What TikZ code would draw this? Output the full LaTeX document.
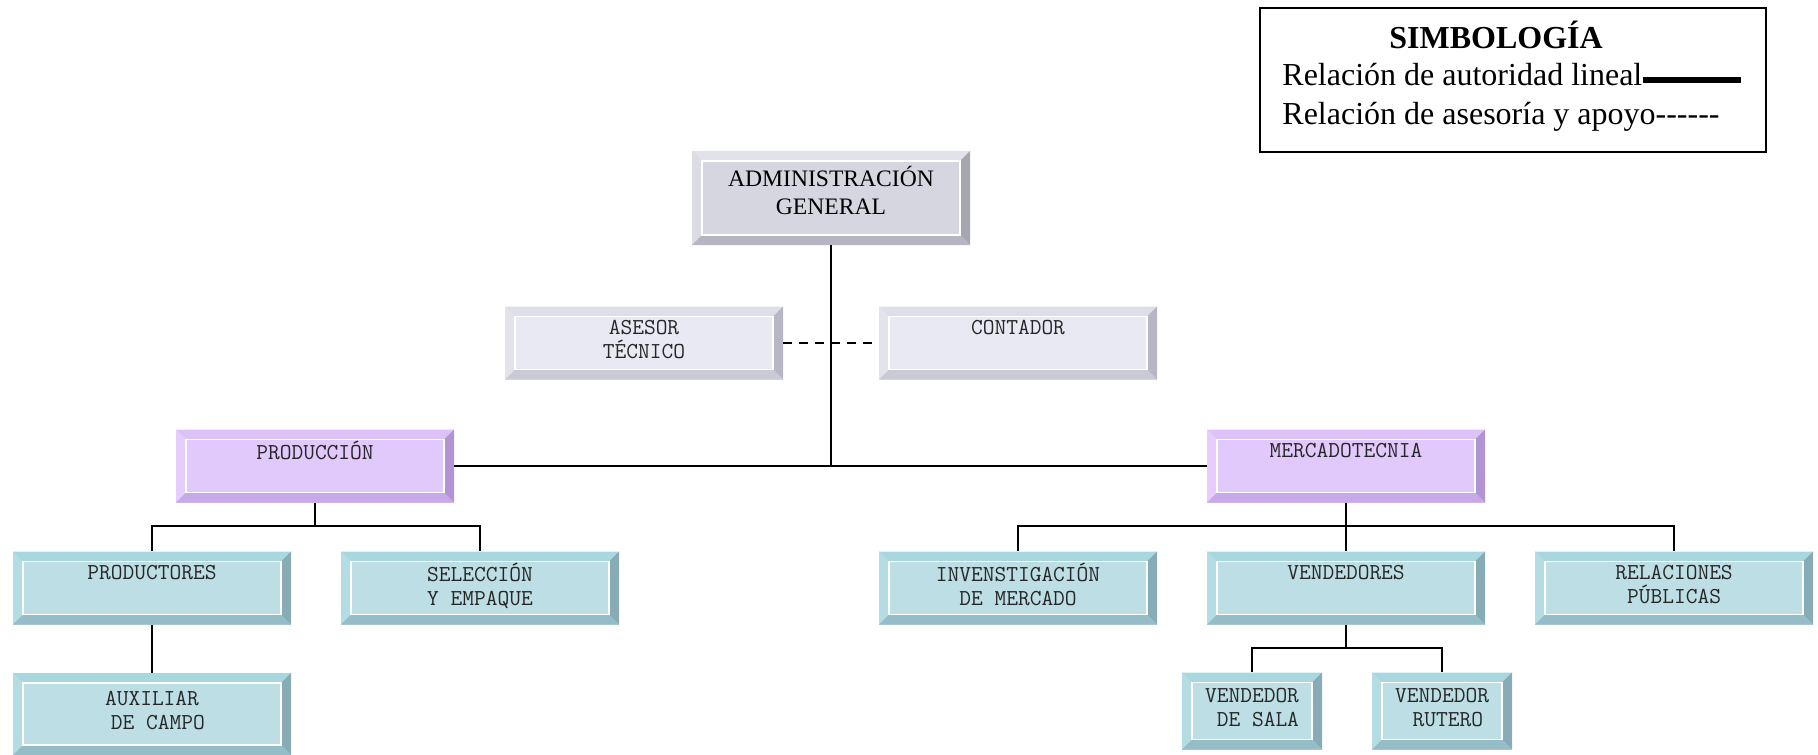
\documentclass[tikz,border=0pt]{standalone}
\usepackage{fontspec}
\setmainfont{Liberation Serif}
\usetikzlibrary{positioning}

% colores de los biseles: F cara, T arriba, L izquierda, R derecha, B abajo
\definecolor{grisF}{HTML}{D6D6E0}\definecolor{grisT}{HTML}{E2E2EA}
\definecolor{grisL}{HTML}{DCDCE4}\definecolor{grisR}{HTML}{A6A6B2}
\definecolor{grisB}{HTML}{B6B6C2}
\definecolor{claroF}{HTML}{E9E9F3}\definecolor{claroT}{HTML}{DEDEE8}
\definecolor{claroL}{HTML}{E3E3EC}\definecolor{claroR}{HTML}{B6B6C6}
\definecolor{claroB}{HTML}{CACAD7}
\definecolor{lilaF}{HTML}{E1C9FB}\definecolor{lilaT}{HTML}{DCC2F6}
\definecolor{lilaL}{HTML}{E5CEFB}\definecolor{lilaR}{HTML}{B195D3}
\definecolor{lilaB}{HTML}{C6A9E6}
\definecolor{cianF}{HTML}{BCDEE4}\definecolor{cianT}{HTML}{A9D7DF}
\definecolor{cianL}{HTML}{B4DCE3}\definecolor{cianR}{HTML}{88ACB5}
\definecolor{cianB}{HTML}{95BDC7}

\newcommand\guion{\mbox{-}}

\tikzset{
  bisel/.style={draw=none, fill=#1F, inner sep=0pt, align=center, text=black!85,
    font=\ttfamily\fontsize{11.4}{12}\selectfont, execute at end node={\strut},
    path picture={
      \coordinate (nw) at (path picture bounding box.north west);
      \coordinate (ne) at (path picture bounding box.north east);
      \coordinate (sw) at (path picture bounding box.south west);
      \coordinate (se) at (path picture bounding box.south east);
      \fill[#1T] (nw) -- (ne) -- ([shift={(-5pt,-5pt)}]ne) -- ([shift={(5pt,-5pt)}]nw) -- cycle;
      \fill[#1L] (nw) -- (sw) -- ([shift={(5pt,5pt)}]sw) -- ([shift={(5pt,-5pt)}]nw) -- cycle;
      \fill[#1R] (ne) -- (se) -- ([shift={(-5pt,5pt)}]se) -- ([shift={(-5pt,-5pt)}]ne) -- cycle;
      \fill[#1B] (sw) -- (se) -- ([shift={(-5pt,5pt)}]se) -- ([shift={(5pt,5pt)}]sw) -- cycle;
      \draw[white, line width=0.6pt] ([shift={(5pt,-5pt)}]nw) rectangle ([shift={(-5pt,5pt)}]se);
    }},
  caja/.style={bisel=#1, minimum width=139pt, minimum height=36.5pt},
  caja/.default=cian,
  cajita/.style={bisel=cian, minimum width=70pt, minimum height=38.5pt},
  linea/.style={line width=1pt},
  apoyo/.style={line width=1pt, dash pattern=on 4.5pt off 3.5pt},
  leyenda/.style={font=\fontsize{16}{19}\selectfont, inner sep=0pt},
}

\begin{document}
\begin{tikzpicture}[x=0.5pt, y=-0.5pt]
\useasboundingbox (0,0) rectangle (1818,754);

% direccion y staff
\node[caja=gris, minimum height=47pt, text=black, font=\fontsize{11.8}{14.2}\selectfont,
  execute at end node={\rule[-7.5pt]{0pt}{7.5pt}}]
  (admin) at (831,198) {ADMINISTRACIÓN\\GENERAL};
\node[caja=claro] (asesor) at (644,343) {ASESOR\\TÉCNICO};
\node[caja=claro] (contador) at (1018,343) {CONTADOR\\\mbox{}};

% areas
\node[caja=lila] (prod) at (315,466) {PRODUCCIÓN\\\mbox{}};
\node[caja=lila] (merc) at (1346,466) {MERCADOTECNIA\\\mbox{}};

% puestos
\node[caja] (productores) at (152,588) {PRODUCTORES\\\mbox{}};
\node[caja] (seleccion) at (480,588) {SELECCIÓN\\Y EMPAQUE};
\node[caja, minimum height=41pt] (auxiliar) at (152,714) {AUXILIAR\\\ DE CAMPO};
\node[caja] (investigacion) at (1018,588) {INVENSTIGACIÓN\\DE MERCADO};
\node[caja] (vendedores) at (1346,588) {VENDEDORES\\\mbox{}};
\node[caja] (relaciones) at (1674,588) {RELACIONES\\PÚBLICAS};
\node[cajita] (sala) at (1252,711) {VENDEDOR\\\ DE SALA};
\node[cajita] (rutero) at (1442,711) {VENDEDOR\\\ RUTERO};

% autoridad lineal
\draw[linea] (admin.south) -- (admin.south |- prod.east);
\draw[linea] (prod.east) -- (merc.west);
\draw[apoyo] (asesor.east) -- (contador.west);

\path (prod.south) ++(0,23) coordinate (busprod);
\draw[linea] (prod.south) -- (busprod);
\draw[linea] (productores.north) |- (busprod) -| (seleccion.north);
\draw[linea] (productores.south) -- (auxiliar.north);

\path (merc.south) ++(0,23) coordinate (busmerc);
\draw[linea] (merc.south) -- (busmerc);
\draw[linea] (investigacion.north) |- (busmerc) -| (relaciones.north);
\draw[linea] (busmerc) -- (vendedores.north);

\path (vendedores.south) ++(0,23) coordinate (busvend);
\draw[linea] (vendedores.south) -- (busvend);
\draw[linea] (sala.north) |- (busvend) -| (rutero.north);

% simbologia
\node[draw, line width=1pt, minimum width=253pt, minimum height=72pt, inner sep=0pt]
  (simbologia) at (1513,80) {};
\node[leyenda, font=\bfseries\fontsize{16}{19}\selectfont, anchor=base] (titulo) at (1496,49) {SIMBOLOGÍA};
\node[leyenda, anchor=base west] (lineal) at (1282,86) {Relación de autoridad lineal};
\node[leyenda, anchor=base west] (asesoria) at (1282,125)
  {Relación de asesoría y apoyo\guion\guion\guion\guion\guion\guion};
\coordinate (finlineal) at (1741,80);
\draw[line width=2.6pt] (lineal.base east |- finlineal) -- (finlineal);
\end{tikzpicture}
\end{document}
